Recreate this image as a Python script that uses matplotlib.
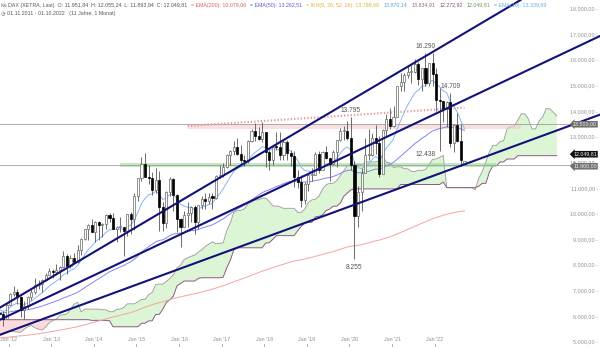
import pandas as pd
import numpy as np
import matplotlib
matplotlib.use("Agg")
import matplotlib.pyplot as plt
import matplotlib.transforms as mtrans

plt.rcParams['font.family'] = ['Liberation Sans', 'DejaVu Sans']

# monthly DAX candles Nov 2011 .. Oct 2022
opens = [6141, 6088,
         5898, 6458, 6856, 6947, 6761, 6264, 6416, 6772, 6970, 7216, 7260, 7405,
         7612, 7776, 7741, 7795, 7914, 8349, 7959, 8276, 8103, 8594, 9033, 9405,
         9552, 9306, 9692, 9556, 9603, 9943, 9833, 9407, 9470, 9474, 9327, 9981,
         9806, 10694, 11402, 11966, 11454, 11414, 10945, 11309, 10259, 9660, 10850, 11382,
         10743, 9798, 9495, 9966, 10039, 10263, 9680, 10337, 10593, 10511, 10665, 10640,
         11481, 11535, 11834, 12313, 12438, 12615, 12325, 12118, 12056, 12829, 13230, 13024,
         12918, 13189, 12436, 12097, 12612, 12605, 12306, 12806, 12364, 12247, 11447, 11257,
         10559, 11173, 11516, 11526, 12344, 11727, 12399, 12189, 11939, 12428, 12867, 13236,
         13249, 12981, 11890, 9936, 10862, 11587, 12311, 12313, 12945, 12761, 11556, 13291,
         13719, 13433, 13786, 15008, 15136, 15421, 15531, 15544, 15835, 15261, 15689, 15100,
         15885, 15471, 14461, 14415, 14098, 14388, 12784, 13484, 12835, 11951.84]
highs = [6300, 6210,
         6480, 6900, 7194, 7080, 6800, 6600, 6800, 7085, 7480, 7430, 7440, 7700,
         7870, 7840, 8060, 7950, 8560, 8450, 8400, 8480, 8770, 9060, 9420, 9600,
         9794, 9730, 9740, 9660, 10000, 10050, 10050, 9530, 9890, 9500, 10000, 10090,
         10810, 11420, 12220, 12390, 11900, 11650, 11800, 11670, 10470, 10900, 11430, 11390,
         10760, 9850, 10100, 10480, 10300, 10350, 10350, 10700, 10800, 10800, 10800, 11500,
         11900, 12000, 12320, 12500, 12840, 12950, 12700, 12300, 12900, 13300, 13530, 13400,
         13597, 13200, 12500, 12650, 13200, 13200, 12900, 12900, 12500, 12460, 11700, 11500,
         11260, 11550, 11800, 12400, 12440, 12450, 12650, 12200, 12500, 12900, 13370, 13430,
         13640, 13795, 12050, 11100, 11800, 12950, 13300, 13150, 13460, 13050, 13300, 13900,
         14130, 14200, 15010, 15500, 15500, 15800, 15800, 16030, 15950, 15700, 16290, 15900,
         16285, 15700, 14925, 14400, 14400, 14710, 13500, 13950, 13500, 12055.24]
lows = [5366, 5622,
        5900, 6450, 6780, 6500, 5970, 5915, 6300, 6640, 6880, 7080, 6950, 7380,
        7600, 7500, 7700, 7420, 7900, 7655, 7880, 8080, 8100, 8400, 8990, 9000,
        9300, 8920, 9000, 9100, 9400, 9700, 9400, 8900, 9300, 8355, 9150, 9220,
        9380, 10500, 11300, 11450, 11150, 10750, 10800, 9338, 9325, 9450, 10700, 10100,
        9300, 8700, 9490, 9500, 9700, 9200, 9400, 10200, 10200, 10400, 10175, 10600,
        11400, 11450, 11800, 11900, 12300, 12300, 12000, 11870, 12000, 12800, 12840, 12900,
        12800, 11830, 11730, 11900, 12480, 12100, 12100, 12100, 11860, 11050, 11010, 10280,
        10400, 10900, 11300, 11500, 11600, 11700, 12150, 11270, 11900, 11850, 12850, 12900,
        12900, 11720, 8255, 9500, 10100, 11600, 12100, 12250, 12340, 11450, 11550, 13000,
        13310, 13400, 13800, 14800, 14800, 15300, 15100, 15500, 15050, 14800, 15000, 15000,
        15000, 14000, 12438, 13600, 13400, 12600, 12400, 12800, 11860, 11893.94]
closes = [6088, 5898,
          6458, 6856, 6947, 6761, 6264, 6416, 6772, 6970, 7216, 7260, 7405, 7612,
          7776, 7741, 7795, 7914, 8349, 7959, 8276, 8103, 8594, 9033, 9405, 9552,
          9306, 9692, 9556, 9603, 9943, 9833, 9407, 9470, 9474, 9327, 9981, 9806,
          10694, 11402, 11966, 11454, 11414, 10945, 11309, 10259, 9660, 10850, 11382, 10743,
          9798, 9495, 9966, 10039, 10263, 9680, 10337, 10593, 10511, 10665, 10640, 11481,
          11535, 11834, 12313, 12438, 12615, 12325, 12118, 12056, 12829, 13230, 13024, 12918,
          13189, 12436, 12097, 12612, 12605, 12306, 12806, 12364, 12247, 11447, 11257, 10559,
          11173, 11516, 11526, 12344, 11727, 12399, 12189, 11939, 12428, 12867, 13236, 13249,
          12981, 11890, 9936, 10862, 11587, 12311, 12313, 12945, 12761, 11556, 13291, 13719,
          13433, 13786, 15008, 15136, 15421, 15531, 15544, 15835, 15261, 15689, 15100, 15885,
          15471, 14461, 14415, 14098, 14388, 12784, 13484, 12835, 12114, 12049.81]

# Ichimoku senkou spans as drawn (already shifted), Nov 2011 .. Dec 2024
span_a = [5259, 5300,
          5380, 5422, 5400, 5390, 5380, 5500, 5600, 5647, 5550, 5500, 5465, 5580,
          5747, 5837, 5897, 6042, 6067, 6097, 6275, 6475, 6550, 6175, 6283, 6283,
          6283, 6283, 6283, 6258, 6258, 6181, 6181, 6281, 6281, 6345, 6490, 6490,
          6490, 6570, 6655, 6655, 6846, 6931, 7241, 7259, 7259, 7366, 7481, 7626,
          7890, 7996, 8216, 8286, 8346, 8396, 8504, 8604, 8734, 8825, 8910, 8834,
          8851, 8871, 9339, 9644, 10054, 10139, 10139, 10198, 10396, 10470, 10546, 10551,
          10615, 10615, 10486, 10311, 10311, 10279, 10219, 10219, 10219, 10219, 10061, 10061,
          10186, 10448, 10548, 10573, 10698, 10969, 11139, 11194, 11194, 11300, 11500, 11688,
          11890, 11908, 11941, 11931, 11906, 12031, 12031, 12031, 12031, 12081, 12275, 12006,
          11996, 11813, 11839, 11839, 11764, 11764, 11664, 11654, 11702, 11702, 11732, 11919,
          12129, 12144, 12208, 12285, 11025, 11025, 11025, 11025, 11025, 11025, 11025, 11025,
          10941, 11389, 11654, 12026, 12426, 12676, 12676, 12826, 12851, 13329, 13406, 13429,
          13659, 13909, 13909, 13709, 13318, 13318, 13630, 13780, 14108, 14106, 13971, 13825]
span_b = [5870, 5870,
          5870, 5870, 5870, 5870, 5870, 5870, 5870, 5870, 5870, 5870, 5870, 5870,
          5870, 5870, 5870, 5870, 5870, 5870, 5870, 5870, 5870, 5870, 5870, 5870,
          5844, 5844, 5844, 5844, 5844, 5828, 5594, 5594, 5594, 5594, 5594, 5594,
          5594, 5594, 5729, 5729, 5824, 5824, 6074, 6074, 6280, 6542, 6647, 6792,
          7192, 7282, 7380, 7380, 7380, 7380, 7482, 7507, 7507, 7507, 7507, 7507,
          7507, 7527, 7887, 8182, 8592, 8677, 8677, 8677, 8677, 8677, 8677, 8677,
          8677, 8860, 8878, 9006, 9152, 9152, 9152, 9152, 9152, 9152, 9345, 9515,
          9635, 9670, 9670, 9885, 9905, 9960, 10130, 10185, 10302, 10302, 10415, 10690,
          10815, 10942, 10976, 10976, 10976, 10976, 10976, 10976, 10976, 10976, 10976, 10976,
          10976, 10976, 10976, 11148, 11148, 11148, 11148, 11148, 11148, 11148, 11148, 11148,
          11148, 11148, 11148, 11247, 11025, 11025, 11025, 11025, 11025, 11025, 11025, 11025,
          11025, 11078, 11193, 11193, 11628, 11878, 11878, 12028, 12028, 12143, 12143, 12143,
          12273, 12273, 12273, 12273, 12273, 12273, 12273, 12273, 12273, 12273, 12273, 12273]

# EMA start levels read at the left edge
ema_seeds = {200: 5150, 50: 6150, 10: 6300}
ema_colors = {200: '#f4a3a3', 50: '#8585ee', 10: '#86b6f2'}

# trend lines, two anchors each (month, level)
trend_lines = [(("2011-11", 6330), ("2022-11", 17140)),
               (("2011-11", 5860), ("2024-06", 15755)),
               (("2011-11", 5275), ("2024-06", 12952))]
resist_dots = (("2016-04", 13430), ("2022-10", 14150))

# horizontal levels and zones
level_red, zone_red = 13500, (13310, 13500, "2016-04", "2024-02")
level_green, zone_green = 11900, (11830, 12000, "2014-09", "2023-07")

# extreme labels (month, which, text)
extremes = [("2021-11", "high", "16.290"), ("2022-06", "high", "14.709"),
            ("2020-02", "high", "13.795"), ("2022-03", "low", "12.438"),
            ("2020-03", "low", "8.255")]

yticks = list(range(5000, 18001, 1000))


def mi(s):
    return (pd.Period(s, 'M') - pd.Period('2011-11', 'M')).n


def de(v):
    return f"{v:,.2f}".replace(",", "X").replace(".", ",").replace("X", ".")


fig = plt.figure(figsize=(6, 3.47), dpi=100)
ax = fig.add_axes([0, 0, 1, 1])
ax.set_axis_off()
ax.set_xlim(0.15, 0.15 + 600 / 3.55)
ax.set_ylim(4804, 18351)

n = len(closes)
x = np.arange(n)
xs = np.arange(len(span_a))
a = np.array(span_a, float)
b = np.array(span_b, float)

# cloud
ax.fill_between(xs, a, b, where=a >= b, interpolate=True, color='#dbf5d5', lw=0, zorder=1)
ax.fill_between(xs, a, b, where=a < b, interpolate=True, color='#fadada', lw=0, zorder=1)
ax.plot(xs, a, color='#9a9a9a', lw=0.6, zorder=2)
ax.plot(xs, b, color='#8a5c80', lw=0.7, zorder=2)

# zones + levels
ax.fill_between([mi(zone_red[2]), mi(zone_red[3])], zone_red[0], zone_red[1],
                color='#f6caca', alpha=0.6, lw=0, zorder=2)
ax.fill_between([mi(zone_green[2]), mi(zone_green[3])], zone_green[0], zone_green[1],
                color='#8fd88a', alpha=0.55, lw=0, zorder=2)
xr = 0.15 + 572 / 3.55
ax.plot([0.15, xr], [level_red, level_red], color='#a0a0a0', lw=0.6, zorder=3)
ax.plot([0.15, xr], [level_green, level_green], color='#a0a0a0', lw=0.6, zorder=3)
(m1, v1), (m2, v2) = resist_dots
ax.plot([mi(m1), mi(m2)], [v1, v2], color='#e99a9a', lw=1.6, ls=(0, (0.6, 0.9)), zorder=3)

# EMAs
for span, seed in ema_seeds.items():
    e = pd.Series([seed] + closes).ewm(span=span, adjust=False).mean().iloc[1:]
    ax.plot(x, e.values, color=ema_colors[span], lw=0.7, zorder=4)

# candles
o = np.array(opens, float)
c = np.array(closes, float)
up = c >= o
ax.vlines(x, lows, highs, color='#555555', lw=0.6, zorder=5)
body = np.maximum(np.abs(c - o), 40)
ax.bar(x[up], body[up], bottom=o[up], width=0.6, color='white',
       edgecolor='#666666', linewidth=0.5, zorder=6)
ax.bar(x[~up], body[~up], bottom=c[~up], width=0.6, color='black',
       edgecolor='black', linewidth=0.5, zorder=6)

# trend lines
for (ma, va), (mb, vb) in trend_lines:
    ax.axline((mi(ma), va), (mi(mb), vb), color='#12127a', lw=1.5, zorder=7)

# extremes
for m, kind, txt in extremes:
    i = mi(m)
    if kind == "high":
        ax.annotate(txt, (i, highs[i]), xytext=(0, 2), textcoords='offset points',
                    ha='center', va='bottom', fontsize=4.8, color='#555555', zorder=8)
    elif m == "2022-03":
        ax.annotate(txt, (i, lows[i]), xytext=(-3, 0), textcoords='offset points',
                    ha='right', va='top', fontsize=4.8, color='#555555', zorder=8)
    else:
        ax.annotate(txt, (i, lows[i]), xytext=(0, -4), textcoords='offset points',
                    ha='center', va='top', fontsize=4.8, color='#555555', zorder=8)

# right price scale
tr = mtrans.blended_transform_factory(ax.transAxes, ax.transData)
for v in yticks:
    ax.text(0.997, v, de(v) + " -", transform=tr, ha='right', va='center',
            fontsize=3.9, color='#8f8f8f', zorder=9)
for v, lab, fc in [(level_red, de(level_red), '#707070'),
                   (12330, de(closes[-1]), '#111111'),
                   (level_green - 40, de(level_green), '#707070')]:
    ax.text(0.995, v, lab, transform=tr, ha='right', va='center', fontsize=3.8,
            color='#eeeeee', zorder=10,
            bbox=dict(boxstyle='larrow,pad=0.15', fc=fc, ec='none'))

# x labels
tb = mtrans.blended_transform_factory(ax.transData, ax.transAxes)
for yr in range(2012, 2023):
    i = mi(f"{yr}-01") + 0.6
    ax.text(i, 0.022, f"Jan '{str(yr)[2:]}", transform=tb, ha='center', va='center',
            fontsize=3.9, color='#8f8f8f')
    ax.plot([i, i], [0, 0.008], transform=tb, color='#8f8f8f', lw=0.5)

# header, pieces flow left to right
hdr = [("\u2116 DAX (XETRA, Last)  O: 11.951,84  H: 12.055,24  L: 11.893,94  C: 12.049,81", '#555555'),
       ("= EMA(200): 10.079,06", '#e25a5a'),
       ("= EMA(50): 13.262,51", '#5a5ae0'),
       ("= IKH(9, 26, 52, 26): 13.799,68", '#e0b040'),
       ("13.870,14", '#5aa0e0'),
       ("13.834,91", '#8a6a80'),
       ("12.272,92", '#8a4a7a'),
       ("12.049,81", '#6a9a5a'),
       ("= EMA(10): 13.339,69", '#6aaaf0')]
r = fig.canvas.get_renderer()
px = 1.0
for txt, col in hdr:
    t = fig.text(px / 600, 1 - 5 / 347, txt, ha='left', va='center', fontsize=3.75, color=col)
    px = t.get_window_extent(r).x1 + 4
fig.text(1 / 600, 1 - 13 / 347, "\u25f7 01.11.2011 - 01.10.2022   (11 Jahre, 1 Monat)",
         ha='left', va='center', fontsize=3.75, color='#555555')

fig.savefig("out.png", dpi=100)
